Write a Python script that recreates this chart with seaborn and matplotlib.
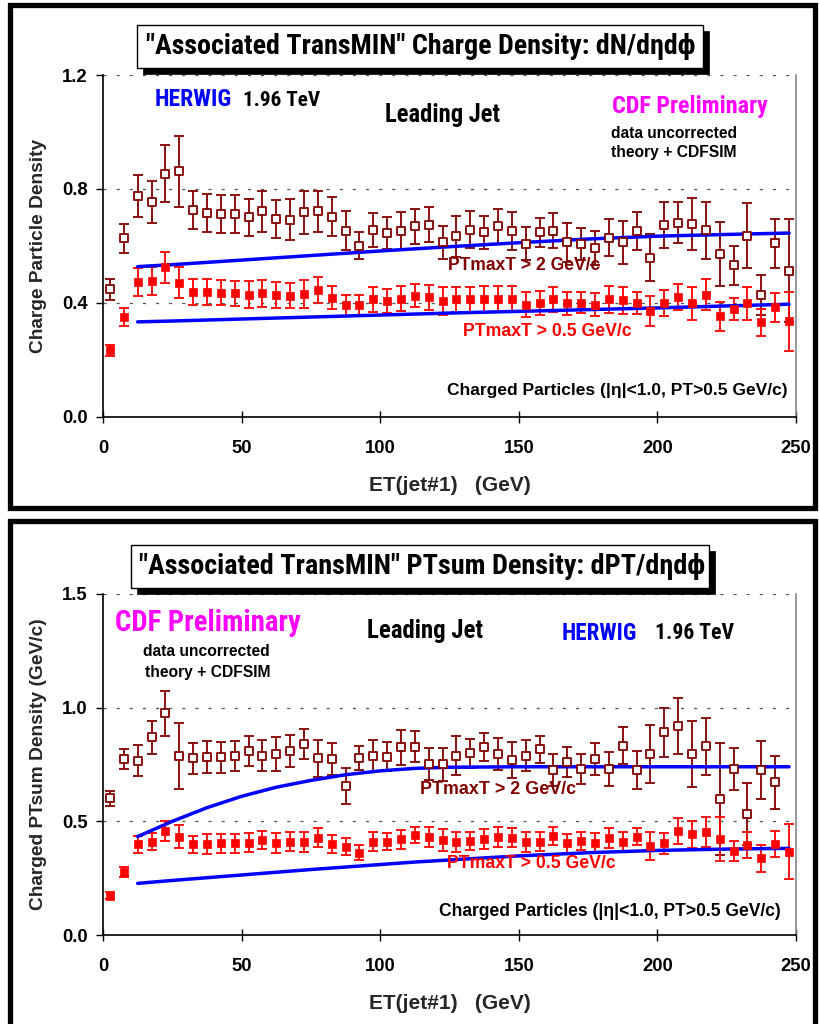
import numpy as np
import pandas as pd
import matplotlib
matplotlib.use("Agg")
import matplotlib.pyplot as plt
import seaborn as sns
from matplotlib.patches import Rectangle
from matplotlib import font_manager as fm

# ---------------- data ----------------
et = [2.5, 7.5, 12.5, 17.5, 22.5, 27.5, 32.5, 37.5, 42.5, 47.5,
      52.5, 57.5, 62.5, 67.5, 72.5, 77.5, 82.5, 87.5, 92.5, 97.5,
      102.5, 107.5, 112.5, 117.5, 122.5, 127.5, 132.5, 137.5, 142.5, 147.5,
      152.5, 157.5, 162.5, 167.5, 172.5, 177.5, 182.5, 187.5, 192.5, 197.5,
      202.5, 207.5, 212.5, 217.5, 222.5, 227.5, 232.5, 237.5, 242.5, 247.5]

# top panel: charge density
n_hi = [0.447, 0.627, 0.774, 0.753, 0.853, 0.862, 0.727, 0.715, 0.711, 0.712,
        0.700, 0.721, 0.694, 0.692, 0.718, 0.721, 0.703, 0.653, 0.601, 0.656,
        0.645, 0.653, 0.668, 0.674, 0.612, 0.633, 0.656, 0.647, 0.668, 0.651,
        0.607, 0.647, 0.653, 0.612, 0.606, 0.592, 0.629, 0.612, 0.653, 0.559,
        0.673, 0.682, 0.676, 0.654, 0.571, 0.531, 0.636, 0.427, 0.609, 0.513]
n_hi_err = [0.036, 0.051, 0.074, 0.074, 0.100, 0.124, 0.067, 0.068, 0.066, 0.066,
            0.066, 0.072, 0.068, 0.071, 0.076, 0.071, 0.067, 0.068, 0.046, 0.061,
            0.055, 0.067, 0.062, 0.061, 0.059, 0.073, 0.065, 0.059, 0.061, 0.067,
            0.058, 0.051, 0.062, 0.068, 0.056, 0.061, 0.066, 0.076, 0.066, 0.084,
            0.081, 0.072, 0.092, 0.099, 0.113, 0.067, 0.114, 0.071, 0.086, 0.182]
n_lo = [0.233, 0.351, 0.472, 0.478, 0.524, 0.471, 0.439, 0.439, 0.436, 0.433,
        0.429, 0.433, 0.427, 0.425, 0.431, 0.445, 0.418, 0.392, 0.392, 0.413,
        0.406, 0.415, 0.425, 0.419, 0.407, 0.412, 0.412, 0.413, 0.413, 0.415,
        0.394, 0.400, 0.413, 0.398, 0.401, 0.394, 0.412, 0.409, 0.398, 0.371,
        0.400, 0.421, 0.398, 0.429, 0.353, 0.378, 0.398, 0.331, 0.384, 0.335]
n_lo_err = [0.020, 0.032, 0.049, 0.049, 0.054, 0.053, 0.045, 0.045, 0.044, 0.045,
            0.047, 0.047, 0.045, 0.044, 0.049, 0.044, 0.041, 0.037, 0.037, 0.044,
            0.041, 0.045, 0.041, 0.044, 0.049, 0.045, 0.045, 0.045, 0.045, 0.045,
            0.043, 0.043, 0.044, 0.041, 0.038, 0.041, 0.047, 0.047, 0.039, 0.053,
            0.045, 0.045, 0.059, 0.054, 0.051, 0.040, 0.059, 0.047, 0.052, 0.104]
n_th_x = [12.5, 25, 50, 75, 100, 125, 150, 175, 200, 225, 247.5]
n_th_hi = [0.527, 0.534, 0.550, 0.566, 0.582, 0.597, 0.611, 0.624, 0.634, 0.640, 0.645]
n_th_lo = [0.333, 0.336, 0.343, 0.350, 0.357, 0.364, 0.370, 0.376, 0.382, 0.389, 0.395]

# bottom panel: PTsum density
p_hi = [0.601, 0.774, 0.767, 0.870, 0.975, 0.787, 0.777, 0.784, 0.782, 0.787,
        0.811, 0.789, 0.795, 0.809, 0.839, 0.777, 0.774, 0.655, 0.780, 0.787,
        0.784, 0.826, 0.828, 0.751, 0.751, 0.789, 0.799, 0.828, 0.796, 0.770,
        0.789, 0.817, 0.726, 0.760, 0.730, 0.774, 0.730, 0.833, 0.726, 0.796,
        0.891, 0.919, 0.796, 0.831, 0.598, 0.729, 0.532, 0.726, 0.672, np.nan]
p_hi_err = [0.032, 0.044, 0.069, 0.073, 0.098, 0.144, 0.069, 0.070, 0.069, 0.067,
            0.066, 0.069, 0.075, 0.070, 0.066, 0.081, 0.072, 0.078, 0.053, 0.070,
            0.063, 0.076, 0.069, 0.070, 0.073, 0.087, 0.063, 0.062, 0.069, 0.078,
            0.069, 0.060, 0.070, 0.066, 0.066, 0.069, 0.073, 0.081, 0.085, 0.128,
            0.106, 0.122, 0.147, 0.125, 0.248, 0.092, 0.138, 0.129, 0.116, np.nan]
p_lo = [0.172, 0.276, 0.399, 0.411, 0.457, 0.433, 0.399, 0.399, 0.403, 0.403,
        0.406, 0.418, 0.406, 0.411, 0.411, 0.428, 0.400, 0.389, 0.362, 0.411,
        0.411, 0.421, 0.440, 0.430, 0.418, 0.408, 0.415, 0.422, 0.430, 0.428,
        0.411, 0.411, 0.435, 0.403, 0.415, 0.406, 0.428, 0.408, 0.433, 0.393,
        0.403, 0.459, 0.443, 0.452, 0.421, 0.370, 0.396, 0.337, 0.400, 0.367]
p_lo_err = [0.015, 0.022, 0.038, 0.037, 0.045, 0.051, 0.038, 0.044, 0.041, 0.041,
            0.041, 0.041, 0.044, 0.041, 0.044, 0.041, 0.040, 0.037, 0.034, 0.041,
            0.037, 0.041, 0.037, 0.043, 0.047, 0.044, 0.040, 0.043, 0.043, 0.041,
            0.044, 0.040, 0.041, 0.041, 0.040, 0.041, 0.044, 0.043, 0.037, 0.062,
            0.047, 0.057, 0.060, 0.065, 0.097, 0.044, 0.059, 0.059, 0.057, 0.120]
p_th_x = [12.5, 25, 37.5, 50, 62.5, 75, 87.5, 100, 112.5, 125, 150, 175, 200, 225, 247.5]
p_th_hi = [0.433, 0.500, 0.560, 0.610, 0.650, 0.680, 0.705, 0.722, 0.733, 0.738,
           0.740, 0.740, 0.740, 0.740, 0.740]
p_th_lo = [0.227, 0.240, 0.252, 0.264, 0.276, 0.288, 0.299, 0.310, 0.321, 0.330,
           0.348, 0.362, 0.372, 0.378, 0.381]

x_ticks = [0, 50, 100, 150, 200, 250]
n_yticks = [0.0, 0.4, 0.8, 1.2]
p_yticks = [0.0, 0.5, 1.0, 1.5]

# ---------------- style ----------------
sns.set_theme(style="white")
REG = ["Liberation Sans", "DejaVu Sans"]
plt.rcParams["font.family"] = REG
plt.rcParams["font.weight"] = "bold"

# find a condensed font if one is installed (Arial Narrow look)
_names = {f.name for f in fm.fontManager.ttflist}
NARROW = dict(family=REG)
for _fam in ["Liberation Sans Narrow", "Arial Narrow", "Roboto Condensed",
             "Open Sans Condensed", "Noto Sans Condensed", "DejaVu Sans Condensed"]:
    if _fam in _names:
        NARROW = dict(family=[_fam, "DejaVu Sans"])
        break
else:
    for f in fm.fontManager.ttflist:
        if f.name in ("DejaVu Sans", "Noto Sans", "Open Sans", "Roboto") and \
                str(f.stretch) in ("condensed", "semi-condensed", "extra-condensed"):
            NARROW = dict(family=[f.name, "DejaVu Sans"], stretch=str(f.stretch))
            break

DARKRED = "#800000"
RED = "#FF0000"
BLUE = "#0000FF"
MAGENTA = "#FF00FF"

W, H = 819, 1024
fig = plt.figure(figsize=(W / 100, H / 100), dpi=100)
fig.patch.set_facecolor("white")
renderer = fig.canvas.get_renderer()


def fx(x):
    return x / W


def fy(y):
    return 1 - y / H


def fit_text(x0, x1, y, s, color="black", narrow=False, base=12, zorder=8):
    kw = dict(NARROW) if narrow else dict(family=REG)
    t = fig.text(fx(x0), fy(y), s, color=color, fontsize=base, fontweight="bold",
                 ha="left", va="center", zorder=zorder, **kw)
    w = t.get_window_extent(renderer).width
    t.set_fontsize(base * (x1 - x0) / w)
    return t


def panel(ax, hi, hi_err, lo, lo_err, thx, thhi, thlo, ymax, yticks, ylabel):
    ax.errorbar(et, hi, yerr=hi_err, fmt="none", ecolor=DARKRED, elinewidth=1.3,
                capsize=3.3, capthick=1.3, zorder=2)
    ax.errorbar(et, lo, yerr=lo_err, fmt="none", ecolor=RED, elinewidth=1.3,
                capsize=3.3, capthick=1.3, zorder=2)
    sns.lineplot(x=thx, y=thhi, ax=ax, color=BLUE, lw=2.5, zorder=3)
    sns.lineplot(x=thx, y=thlo, ax=ax, color=BLUE, lw=2.5, zorder=3)
    sns.scatterplot(x=et, y=hi, ax=ax, marker="s", s=30, facecolor="white",
                    edgecolor=DARKRED, linewidth=1.3, zorder=4)
    sns.scatterplot(x=et, y=lo, ax=ax, marker="s", s=38, color=RED,
                    edgecolor=RED, linewidth=0.5, zorder=4)
    ax.set_xlim(0, 250)
    ax.set_ylim(0, ymax)
    ax.set_xticks(x_ticks)
    ax.set_yticks(yticks)
    ax.set_xticklabels([str(v) for v in x_ticks], fontsize=13.3, fontweight="bold")
    ax.set_yticklabels([f"{v:.1f}" for v in yticks], fontsize=13.3, fontweight="bold")
    for v in yticks[1:]:
        ax.axhline(v, color="#555555", lw=0.9, ls=(0, (2.5, 8)), zorder=1)
    ax.spines["top"].set_visible(False)
    ax.spines["right"].set_color("#888888")
    ax.spines["right"].set_linewidth(1.2)
    for side in ("left", "bottom"):
        ax.spines[side].set_color("black")
        ax.spines[side].set_linewidth(1.2)
    ax.tick_params(axis="x", direction="inout", length=9, width=1, colors="black",
                   pad=12, bottom=True)
    ax.tick_params(axis="y", direction="out", length=5, width=1, colors="black",
                   pad=6, left=True)
    ax.set_xlabel("ET(jet#1)   (GeV)", fontsize=15, fontweight="bold", labelpad=14)
    ax.set_ylabel(ylabel, fontsize=13.8, fontweight="bold")
    ax.yaxis.set_label_coords(-0.081, 0.5)
    ax.set_facecolor("white")


# axes positions (pixels)
L, R = 103, 796
ax1 = fig.add_axes([fx(L), fy(416.7), (R - L) / W, (416.7 - 75) / H])
ax2 = fig.add_axes([fx(L), fy(935), (R - L) / W, (935 - 594) / H])

panel(ax1, n_hi, n_hi_err, n_lo, n_lo_err, n_th_x, n_th_hi, n_th_lo, 1.2,
      n_yticks, "Charge Particle Density")
panel(ax2, p_hi, p_hi_err, p_lo, p_lo_err, p_th_x, p_th_hi, p_th_lo, 1.5,
      p_yticks, "Charged PTsum Density (GeV/c)")


# ---------------- frames ----------------
def frame(x0, y0, x1, y1):
    fig.patches.append(Rectangle((fx(x0), fy(y1)), fx(x1) - fx(x0), fy(y0) - fy(y1),
                                 transform=fig.transFigure, fill=False,
                                 edgecolor="black", lw=3.8, zorder=0))


frame(10, 5, 815, 508)
frame(10, 521, 815, 1040)


def title_box(x0, y0, x1, y1, tx0, tx1, text):
    sh = 6
    fig.patches.append(Rectangle((fx(x0 + sh), fy(y1 + sh)), fx(x1) - fx(x0), fy(y0) - fy(y1),
                                 transform=fig.transFigure, facecolor="black",
                                 edgecolor="black", lw=0.5, zorder=5))
    fig.patches.append(Rectangle((fx(x0), fy(y1)), fx(x1) - fx(x0), fy(y0) - fy(y1),
                                 transform=fig.transFigure, facecolor="white",
                                 edgecolor="black", lw=1.0, zorder=6))
    fit_text(tx0, tx1, (y0 + y1) / 2, text, narrow=True, base=20, zorder=7)


title_box(137, 25, 703, 68, 146, 696, '"Associated TransMIN" Charge Density: dN/d\u03b7d\u03d5')
title_box(131, 545, 709, 588, 139, 703, '"Associated TransMIN" PTsum Density: dPT/d\u03b7d\u03d5')

# ---------------- annotations: top ----------------
fit_text(155, 232, 100, "HERWIG", color=BLUE, narrow=True)
fit_text(243, 320, 100, "1.96 TeV", narrow=True)
fit_text(385, 500, 115, "Leading Jet", narrow=True)
fit_text(612, 768, 106, "CDF Preliminary", color=MAGENTA, narrow=True)
fit_text(611, 737, 133, "data uncorrected")
fit_text(611, 736, 152, "theory + CDFSIM")
fit_text(448, 600, 265, "PTmaxT > 2 GeV/c", color=DARKRED)
fit_text(463, 630, 331, "PTmaxT > 0.5 GeV/c", color=RED)
fit_text(447, 785, 391, "Charged Particles (|\u03b7|<1.0, PT>0.5 GeV/c)")

# ---------------- annotations: bottom ----------------
fit_text(115, 300, 623, "CDF Preliminary", color=MAGENTA, narrow=True)
fit_text(367, 483, 631, "Leading Jet", narrow=True)
fit_text(562, 637, 633, "HERWIG", color=BLUE, narrow=True)
fit_text(655, 734, 633, "1.96 TeV", narrow=True)
fit_text(143, 270, 652, "data uncorrected")
fit_text(145, 270, 672, "theory + CDFSIM")
fit_text(420, 575, 790, "PTmaxT > 2 GeV/c", color=DARKRED)
fit_text(447, 614, 864, "PTmaxT > 0.5 GeV/c", color=RED)
fit_text(439, 780, 912, "Charged Particles (|\u03b7|<1.0, PT>0.5 GeV/c)")

fig.savefig("out.png", dpi=100, facecolor="white")
